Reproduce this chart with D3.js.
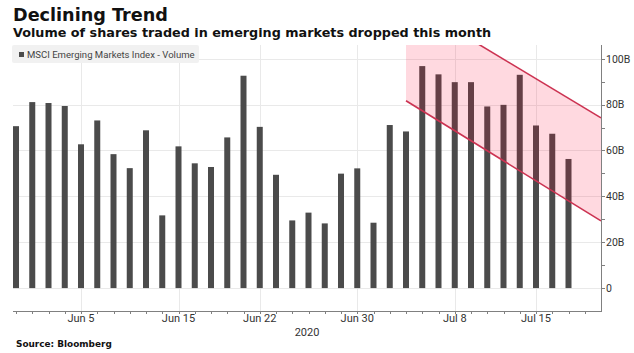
<!DOCTYPE html>
<html>
<head>
<meta charset="utf-8">
<script src="https://cdn.jsdelivr.net/npm/d3@7"></script>
<style>
  body { margin: 0; background: #fff; }
  svg { display: block; font-family: Roboto, "Liberation Sans", sans-serif; }
</style>
</head>
<body>
<svg></svg>
<script>
// ====== data ====== //
const dates = [
  "2020-06-01","2020-06-02","2020-06-03","2020-06-04","2020-06-05",
  "2020-06-08","2020-06-09","2020-06-10","2020-06-11","2020-06-12",
  "2020-06-15","2020-06-16","2020-06-17","2020-06-18","2020-06-19",
  "2020-06-22","2020-06-23","2020-06-24","2020-06-25","2020-06-26",
  "2020-06-29","2020-06-30","2020-07-01","2020-07-02","2020-07-03",
  "2020-07-06","2020-07-07","2020-07-08","2020-07-09","2020-07-10",
  "2020-07-13","2020-07-14","2020-07-15","2020-07-16","2020-07-17"
];
// volume, billions
const volume = [
  70.6, 81.1, 80.7, 79.4, 62.7,
  73.1, 58.4, 52.3, 68.8, 31.7,
  61.8, 54.4, 52.8, 65.7, 92.6,
  70.3, 49.4, 29.5, 32.9, 28.2,
  49.9, 52.2, 28.5, 71.1, 68.3,
  96.8, 93.2, 89.8, 89.8, 79.2,
  79.9, 93.0, 70.9, 67.3, 56.3
];
const tickDates = ["2020-06-05","2020-06-15","2020-06-22","2020-06-30","2020-07-08","2020-07-15"];
const tickNames = ["Jun 5","Jun 15","Jun 22","Jun 30","Jul 8","Jul 15"];
const yTicks = [0, 20, 40, 60, 80, 100];
const yMinorTicks = [10, 30, 50, 70, 90];
// declining channel, [trading day index, value in B]
const trendUpper = [[24, 125.4], [36, 74.2]];
const trendLower = [[24, 81.7], [36, 29.3]];

const seriesName = "MSCI Emerging Markets Index - Volume";

// ====== setup ====== //
const width = 634, height = 353;
const plot = { left: 13, right: 601, top: 45, bottom: 311 };

const svg = d3.select("svg").attr("width", width).attr("height", height);

const x = d3.scaleLinear().domain([-0.185, 36]).range([plot.left, plot.right]);
const y = d3.scaleLinear().domain([-10, 106]).range([plot.bottom, plot.top]);

svg.append("defs").append("clipPath").attr("id", "plotclip")
  .append("rect")
  .attr("x", plot.left).attr("y", plot.top)
  .attr("width", plot.right - plot.left).attr("height", plot.bottom - plot.top);

// grid
const grid = svg.append("g").attr("stroke", "#e9e9e9").attr("stroke-width", 1);
grid.selectAll(".hg").data(yTicks).join("line")
  .attr("x1", plot.left).attr("x2", plot.right)
  .attr("y1", d => Math.round(y(d)) + 0.5).attr("y2", d => Math.round(y(d)) + 0.5);
grid.selectAll(".vg").data(tickDates).join("line")
  .attr("x1", d => Math.round(x(dates.indexOf(d))) + 0.5)
  .attr("x2", d => Math.round(x(dates.indexOf(d))) + 0.5)
  .attr("y1", plot.top).attr("y2", plot.bottom);

// bars
const barW = 6;
svg.append("g").selectAll("rect").data(volume).join("rect")
  .attr("x", (d, i) => x(i) - barW / 2)
  .attr("width", barW)
  .attr("y", d => y(d))
  .attr("height", d => y(0) - y(d))
  .attr("fill", "#4b4b4b");

// shaded channel
const chan = svg.append("g").attr("clip-path", "url(#plotclip)");
const lineFn = d3.line().x(d => x(d[0])).y(d => y(d[1]));
const area = d3.area()
  .x(d => x(d[0]))
  .y0(d => y(d[1]))
  .y1((d, i) => y(trendUpper[i][1]));
chan.append("path").datum(trendLower)
  .attr("d", area)
  .attr("fill", "rgb(255,0,45)")
  .attr("fill-opacity", 0.15);
[trendUpper, trendLower].forEach(t => {
  chan.append("path").datum(t)
    .attr("d", lineFn)
    .attr("fill", "none")
    .attr("stroke", "#cc3352")
    .attr("stroke-width", 1.6);
});

// x axis
const xAxis = svg.append("g");
xAxis.append("line")
  .attr("x1", plot.left).attr("x2", plot.right)
  .attr("y1", plot.bottom + 0.5).attr("y2", plot.bottom + 0.5)
  .attr("stroke", "#808080");
xAxis.selectAll(".mt").data(d3.range(0, 36)).join("line")
  .attr("x1", d => Math.round(x(d)) + 0.5).attr("x2", d => Math.round(x(d)) + 0.5)
  .attr("y1", plot.bottom).attr("y2", plot.bottom + 3)
  .attr("stroke", "#808080");
xAxis.selectAll("text").data(tickDates).join("text")
  .attr("x", d => x(dates.indexOf(d)))
  .attr("y", 322)
  .attr("text-anchor", "middle")
  .attr("font-size", 11)
  .attr("fill", "#333")
  .text((d, i) => tickNames[i]);
svg.append("text")
  .attr("x", (plot.left + plot.right) / 2)
  .attr("y", 336)
  .attr("text-anchor", "middle")
  .attr("font-size", 11)
  .attr("fill", "#333")
  .text("2020");

// y axis (right)
const yAxis = svg.append("g");
yAxis.append("line")
  .attr("x1", plot.right + 0.5).attr("x2", plot.right + 0.5)
  .attr("y1", plot.top).attr("y2", plot.bottom + 1)
  .attr("stroke", "#808080");
yAxis.selectAll(".yt").data(yTicks.concat(yMinorTicks)).join("line")
  .attr("x1", plot.right).attr("x2", plot.right + 4)
  .attr("y1", d => Math.round(y(d)) + 0.5).attr("y2", d => Math.round(y(d)) + 0.5)
  .attr("stroke", "#808080");
yAxis.selectAll("text").data(yTicks).join("text")
  .attr("x", plot.right + 5)
  .attr("y", d => y(d))
  .attr("dy", "0.36em")
  .attr("font-size", 10.5)
  .attr("fill", "#333")
  .text(d => d === 0 ? "0" : d + "B");

// shrink/grow a text so that it spans the given width
function fitWidth(sel, target) {
  const w = sel.node().getComputedTextLength();
  const fs = parseFloat(sel.attr("font-size"));
  sel.attr("font-size", fs * target / w);
}

// legend
const leg = svg.append("g");
leg.append("rect")
  .attr("x", 12).attr("y", 45).attr("width", 187).attr("height", 18)
  .attr("rx", 2)
  .attr("fill", "#f1f1f1");
leg.append("rect")
  .attr("x", 19).attr("y", 52).attr("width", 5).attr("height", 5)
  .attr("fill", "#4b4b4b");
const legText = leg.append("text")
  .attr("x", 27).attr("y", 57.5)
  .attr("font-size", 10)
  .attr("fill", "#444")
  .text(seriesName);
fitWidth(legText, 168);

// titles
const title = svg.append("text")
  .attr("x", 13).attr("y", 21)
  .attr("font-family", "'DejaVu Sans', sans-serif")
  .attr("font-size", 18).attr("font-weight", "bold").attr("fill", "#111")
  .text("Declining Trend");
fitWidth(title, 155);
const sub = svg.append("text")
  .attr("x", 13).attr("y", 37)
  .attr("font-family", "'DejaVu Sans', sans-serif")
  .attr("font-size", 13).attr("font-weight", "bold").attr("fill", "#111")
  .text("Volume of shares traded in emerging markets dropped this month");
fitWidth(sub, 479);
const src = svg.append("text")
  .attr("x", 16).attr("y", 347)
  .attr("font-family", "'DejaVu Sans', sans-serif")
  .attr("font-size", 9).attr("font-weight", "bold").attr("fill", "#111")
  .text("Source: Bloomberg");
fitWidth(src, 96);
</script>
</body>
</html>
